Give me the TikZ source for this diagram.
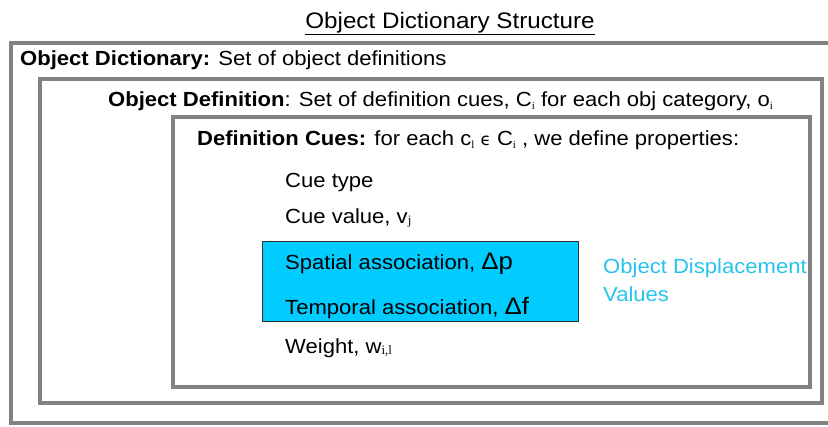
\documentclass[tikz,border=0pt]{standalone}
\usepackage{fontspec}
\setmainfont{Liberation Sans}[FakeStretch=1.08]
\newfontfamily\idxfont{Liberation Serif}
\newfontfamily\symfont{DejaVu Sans}
\definecolor{framegray}{RGB}{130,130,130}
\definecolor{cuefill}{RGB}{0,204,255}
\definecolor{notecyan}{RGB}{38,196,236}
% small lowered index, as used for C_i, o_i, c_l
\newcommand{\lowidx}[1]{\raisebox{-3.5bp}{\idxfont\fontsize{11}{11}\selectfont #1}}
% small index sitting near the baseline, as in v_j and w_{i,l}
\newcommand{\baseidx}[1]{\raisebox{-1.5bp}{\idxfont\fontsize{13}{13}\selectfont #1}}
\tikzset{
  frame/.style={draw=framegray, line width=3.6bp},
  cuebox/.style={draw=black!80, line width=0.8bp, fill=cuefill},
  txt/.style={anchor=base west, inner sep=0pt, font=\fontsize{20.5}{24}\selectfont},
  ttl/.style={anchor=base, inner sep=0pt, font=\fontsize{22.5}{26}\selectfont},
  note/.style={txt, text=notecyan}
}
\begin{document}
\begin{tikzpicture}[x=1bp, y=-1bp]
\useasboundingbox (0,0) rectangle (828,426);
\fill[white] (0,0) rectangle (828,426);

% nested frames
\draw[frame] (11,43) rectangle (845,423);
\draw[frame] (40,79) rectangle (822,403);
\draw[frame] (173,117) rectangle (810,387);

% displacement values highlight
\draw[cuebox] (262,241.5) rectangle (578.5,321.5);

% title
\node[ttl] (title) at (450,28) {\underline{Object Dictionary Structure}};

% frame headings
\node[txt] (dict) at (20,65) {\textbf{Object Dictionary:} Set of object definitions};
\node[txt] (def) at (108,106) {\textbf{Object Definition}: Set of definition cues, C\lowidx{i} for each obj category, o\lowidx{i}};
\node[txt] (cues) at (197,145) {\textbf{Definition Cues:} for each c\lowidx{l} {\symfont\fontsize{17}{17}\selectfont ϵ} C\lowidx{i} , we define properties:};

% cue properties
\node[txt] (ctype) at (285,187) {Cue type};
\node[txt] (cval) at (285,223) {Cue value, v\baseidx{j}};
\node[txt] (spat) at (285,269) {Spatial association, {\fontsize{24}{24}\selectfont Δp}};
\node[txt] (temp) at (285,314) {Temporal association, {\fontsize{24}{24}\selectfont Δf}};
\node[txt] (wgt) at (285,353) {Weight, w\baseidx{i,l}};

% side note
\node[note] (disp1) at (603,273) {Object Displacement};
\node[note] (disp2) at (603,301) {Values};
\end{tikzpicture}
\end{document}
